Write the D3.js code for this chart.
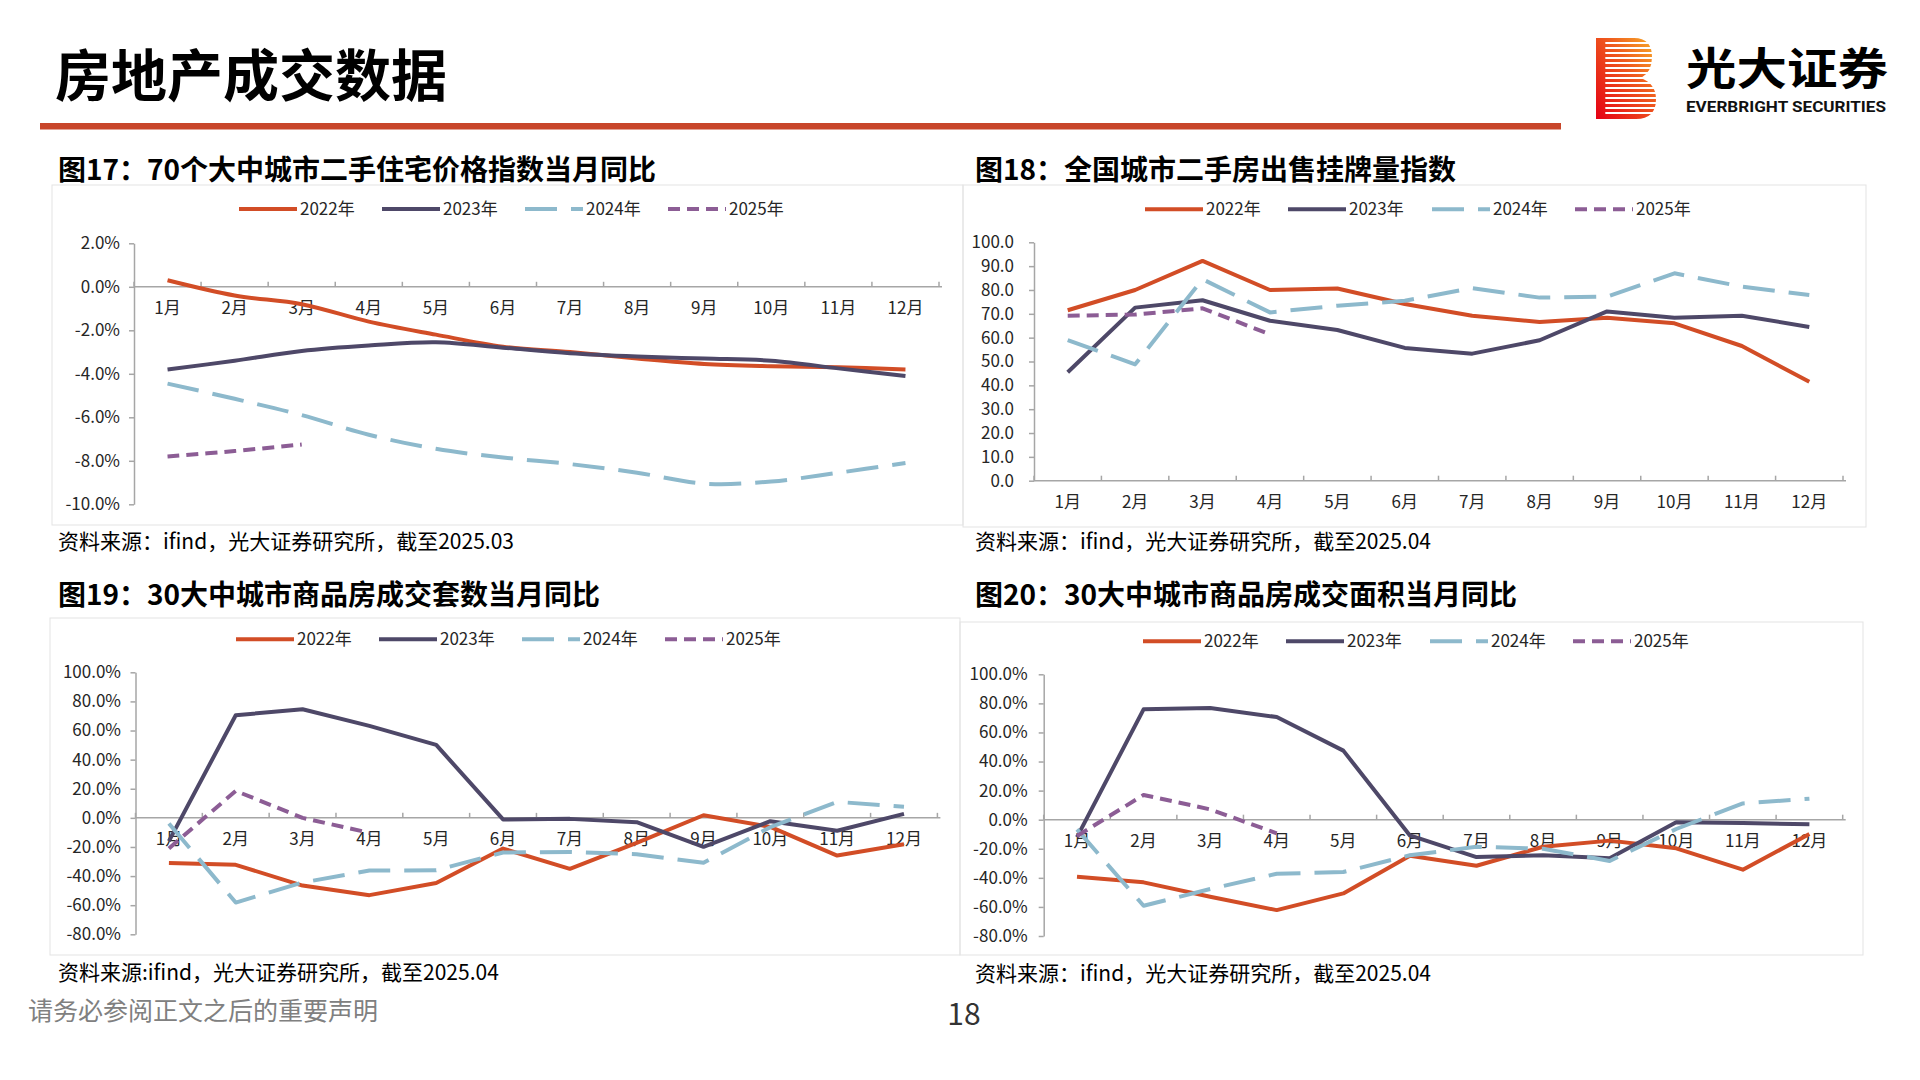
<!DOCTYPE html>
<html lang="zh">
<head>
  <meta charset="UTF-8" />
  <title>房地产成交数据</title>
  <script src="https://d3js.org/d3.v7.min.js"></script>
  <style>
    body {
      margin: 0;
      background: #fff;
      font-family: "Noto Sans CJK SC", "Noto Sans", sans-serif;
    }
    svg { display: block; }
    .axis text { font-size: 17px; fill: #262626; font-family: "Noto Sans CJK SC", sans-serif; }
    .axis path, .axis line { stroke: #a6a6a6; stroke-width: 1.5; }
    .legend text { font-size: 17px; fill: #262626; }
    .ctitle { font-size: 28px; font-weight: bold; fill: #000; }
    .source { font-size: 21px; fill: #000; }
  </style>
</head>
<body>
<svg width="1920" height="1080"></svg>

<script>
  const months = ['1月', '2月', '3月', '4月', '5月', '6月', '7月', '8月', '9月', '10月', '11月', '12月'];
  const years = ['2022年', '2023年', '2024年', '2025年'];

  // 图17 70个大中城市二手住宅价格指数当月同比 (%)
  const f17_2022 = [0.3, -0.4, -0.8, -1.6, -2.2, -2.75, -3.0, -3.3, -3.55, -3.65, -3.7, -3.8];
  const f17_2023 = [-3.8, -3.4, -2.95, -2.7, -2.55, -2.8, -3.05, -3.2, -3.3, -3.4, -3.75, -4.1];
  const f17_2024 = [-4.45, -5.15, -5.9, -6.8, -7.45, -7.85, -8.15, -8.55, -9.05, -8.95, -8.55, -8.1];
  const f17_2025 = [-7.8, -7.55, -7.25];
  const f17_ticks = [2, 0, -2, -4, -6, -8, -10];

  // 图18 全国城市二手房出售挂牌量指数
  const f18_2022 = [71.5, 80.0, 92.2, 80.0, 80.6, 74.1, 69.2, 66.6, 68.4, 66.0, 56.5, 41.5];
  const f18_2023 = [45.5, 72.6, 75.7, 67.1, 63.2, 55.7, 53.3, 58.9, 71.0, 68.4, 69.2, 64.5];
  const f18_2024 = [59.0, 48.8, 84.5, 70.6, 73.4, 75.5, 80.8, 76.8, 77.2, 87.0, 81.4, 77.9];
  const f18_2025 = [69.2, 69.7, 72.3, 61.4];
  const f18_ticks = [100, 90, 80, 70, 60, 50, 40, 30, 20, 10, 0];

  // 图19 30大中城市商品房成交套数当月同比 (%)
  const f19_2022 = [-31.1, -32.3, -46.5, -53.1, -44.7, -21.1, -35.0, -17.2, 1.8, -6.2, -25.9, -18.1];
  const f19_2023 = [-16, 70.5, 74.6, 63.2, 50.1, -1.1, -0.7, -3.0, -19.9, -2.3, -8.9, 2.7];
  const f19_2024 = [-3.9, -58.2, -44.4, -36.2, -36.0, -23.8, -23.4, -25.0, -30.9, -6.4, 11.0, 7.6];
  const f19_2025 = [-21, 18.5, 0, -10.3];

  // 图20 30大中城市商品房成交面积当月同比 (%)
  const f20_2022 = [-39.2, -43.1, -53.0, -62.2, -50.7, -24.8, -31.7, -18.6, -14.4, -19.7, -34.4, -9.9];
  const f20_2023 = [-12, 75.9, 76.8, 70.6, 47.5, -10.8, -25.7, -24.5, -26.6, -1.8, -2.3, -3.2];
  const f20_2024 = [-6.7, -59.2, -47.7, -37.2, -36.0, -24.5, -18.6, -20.0, -28.4, -6.4, 11.2, 14.4];
  const f20_2025 = [-11.2, 17.0, 7.1, -9.4];
  const f1920_ticks = [100, 80, 60, 40, 20, 0, -20, -40, -60, -80];

  const colors = ['#D24D26', '#4E4868', '#8DB9CC', '#8C5D95'];
  const dashes = [null, null, '32,14', '12,7'];

  const svg = d3.select('svg');

  // ---- page header ----
  svg.append('text')
    .attr('x', 55).attr('y', 76).attr('dy', '0.35em')
    .attr('font-size', 56).attr('font-weight', 'bold').attr('fill', '#000')
    .text('房地产成交数据');

  svg.append('rect')
    .attr('x', 40).attr('y', 123).attr('width', 1521).attr('height', 6.5)
    .attr('fill', '#C8462A');

  // logo
  const defs = svg.append('defs');
  const grad = defs.append('linearGradient').attr('id', 'logoGrad')
    .attr('x1', 1).attr('y1', 0).attr('x2', 0).attr('y2', 1);
  grad.append('stop').attr('offset', 0).attr('stop-color', '#F8B02A');
  grad.append('stop').attr('offset', 0.4).attr('stop-color', '#EF5B1E');
  grad.append('stop').attr('offset', 1).attr('stop-color', '#E50014');

  svg.append('path')
    .attr('d', 'M1596,38 L1634,38 Q1652,38 1652,57 Q1652,72 1641,78 Q1656,84 1656,99 Q1656,119 1636,119 L1596,119 Z')
    .attr('fill', 'url(#logoGrad)');
  d3.range(43, 117, 5).forEach(yy => {
    svg.append('line')
      .attr('x1', 1606).attr('x2', 1660).attr('y1', yy).attr('y2', yy)
      .attr('stroke', '#fff').attr('stroke-width', 1.8).attr('stroke-linecap', 'round');
  });

  svg.append('text')
    .attr('x', 1686).attr('y', 70).attr('dy', '0.35em')
    .attr('font-size', 44).attr('font-weight', 'bold').attr('fill', '#000')
    .attr('textLength', 202).attr('lengthAdjust', 'spacingAndGlyphs')
    .text('光大证券');
  svg.append('text')
    .attr('x', 1686).attr('y', 107).attr('dy', '0.35em')
    .attr('font-size', 15).attr('font-weight', 'bold').attr('fill', '#111')
    .attr('font-family', 'Roboto, "Noto Sans", sans-serif')
    .attr('textLength', 200).attr('lengthAdjust', 'spacingAndGlyphs')
    .text('EVERBRIGHT SECURITIES');

  // ---- footer ----
  svg.append('text')
    .attr('x', 28).attr('y', 1011).attr('dy', '0.35em')
    .attr('font-size', 25).attr('fill', '#808080')
    .text('请务必参阅正文之后的重要声明');
  svg.append('text')
    .attr('x', 964).attr('y', 1014).attr('dy', '0.35em')
    .attr('text-anchor', 'middle')
    .attr('font-size', 30).attr('fill', '#333')
    .text('18');

  // ---- charts ----
  const charts = [
    {
      title: '图17：70个大中城市二手住宅价格指数当月同比',
      source: '资料来源：ifind，光大证券研究所，截至2025.03',
      series: [f17_2022, f17_2023, f17_2024, f17_2025],
      ticks: f17_ticks, domain: [-10, 2], fmt: d => d.toFixed(1) + '%',
      box: [52, 185, 963, 525], titleY: 170, titleX: 58, sourceY: 542,
      x0: 134, x1: 939, yTop: 243.3, yBot: 504.3, labGap: 14,
      legendY: 209, legendX: [239, 382, 525, 668], smooth: true
    },
    {
      title: '图18：全国城市二手房出售挂牌量指数',
      source: '资料来源：ifind，光大证券研究所，截至2025.04',
      series: [f18_2022, f18_2023, f18_2024, f18_2025],
      ticks: f18_ticks, domain: [0, 100], fmt: d => d.toFixed(1),
      box: [963, 185, 1866, 527], titleY: 170, titleX: 975, sourceY: 542,
      x0: 1034, x1: 1843, yTop: 242.3, yBot: 480.7, labGap: 20,
      legendY: 209.3, legendX: [1145, 1288, 1432, 1575], smooth: false
    },
    {
      title: '图19：30大中城市商品房成交套数当月同比',
      source: '资料来源:ifind，光大证券研究所，截至2025.04',
      series: [f19_2022, f19_2023, f19_2024, f19_2025],
      ticks: f1920_ticks, domain: [-80, 100], fmt: d => d.toFixed(1) + '%',
      box: [50, 618, 960, 955], titleY: 595, titleX: 58, sourceY: 973,
      x0: 135.5, x1: 937.4, yTop: 672.3, yBot: 934.3, labGap: 14.5,
      legendY: 639.3, legendX: [236, 379, 522, 665], smooth: false
    },
    {
      title: '图20：30大中城市商品房成交面积当月同比',
      source: '资料来源：ifind，光大证券研究所，截至2025.04',
      series: [f20_2022, f20_2023, f20_2024, f20_2025],
      ticks: f1920_ticks, domain: [-80, 100], fmt: d => d.toFixed(1) + '%',
      box: [960, 622, 1863, 955], titleY: 595, titleX: 975, sourceY: 974,
      x0: 1043.7, x1: 1842.7, yTop: 674.3, yBot: 936, labGap: 16,
      legendY: 641.3, legendX: [1143, 1286, 1430, 1573], smooth: false
    }
  ];

  charts.forEach(drawChart);

  function drawChart(c) {
    const g = svg.append('g');

    // frame
    g.append('rect')
      .attr('x', c.box[0]).attr('y', c.box[1])
      .attr('width', c.box[2] - c.box[0]).attr('height', c.box[3] - c.box[1])
      .attr('fill', 'none').attr('stroke', '#e3e3e3').attr('stroke-width', 1);

    g.append('text').attr('class', 'ctitle')
      .attr('x', c.titleX).attr('y', c.titleY).attr('dy', '0.35em')
      .text(c.title);

    g.append('text').attr('class', 'source')
      .attr('x', c.titleX).attr('y', c.sourceY).attr('dy', '0.35em')
      .text(c.source);

    const x = d3.scaleBand().domain(months).range([c.x0, c.x1]).padding(0);
    const y = d3.scaleLinear().domain(c.domain).range([c.yBot, c.yTop]);
    const cx = m => x(m) + x.bandwidth() / 2;
    const zeroY = y(Math.max(0, c.domain[0]));

    // y axis
    g.append('g').attr('class', 'axis')
      .attr('transform', `translate(${c.x0},0)`)
      .call(d3.axisLeft(y).tickValues(c.ticks).tickFormat(c.fmt)
        .tickSize(5).tickSizeOuter(0).tickPadding(c.labGap - 5));

    // x axis (labels under the zero line, ticks on band edges pointing up)
    const xa = g.append('g').attr('class', 'axis')
      .attr('transform', `translate(0,${zeroY})`)
      .call(d3.axisBottom(x).tickSize(0).tickSizeOuter(0));
    xa.selectAll('text').attr('y', 21).attr('dy', '0.35em');
    const edges = months.map(m => x(m)).concat([c.x1]);
    xa.selectAll('line.edge').data(edges).enter().append('line')
      .attr('class', 'edge')
      .attr('x1', d => d).attr('x2', d => d)
      .attr('y1', 0).attr('y2', -5);
    xa.select('.domain').attr('d', `M${c.x0},0H${c.x1 + 3}`);

    // lines
    const line = d3.line()
      .x((d, i) => cx(months[i]))
      .y(d => y(d))
      .curve(c.smooth ? d3.curveCatmullRom.alpha(0.5) : d3.curveLinear);

    c.series.forEach((s, k) => {
      g.append('path')
        .datum(s)
        .attr('d', line)
        .attr('fill', 'none')
        .attr('stroke', colors[k])
        .attr('stroke-width', 4)
        .attr('stroke-linejoin', 'round')
        .attr('stroke-dasharray', dashes[k]);
    });

    // legend
    const lg = g.append('g').attr('class', 'legend');
    years.forEach((name, k) => {
      const lx = c.legendX[k];
      lg.append('line')
        .attr('x1', lx).attr('x2', lx + 58)
        .attr('y1', c.legendY).attr('y2', c.legendY)
        .attr('stroke', colors[k]).attr('stroke-width', 4)
        .attr('stroke-dasharray', dashes[k]);
      lg.append('text')
        .attr('x', lx + 61).attr('y', c.legendY).attr('dy', '0.35em')
        .text(name);
    });
  }
</script>
</body>
</html>
